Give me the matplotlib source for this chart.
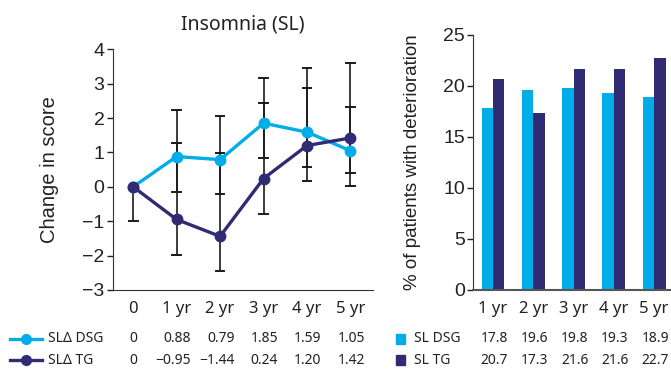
import matplotlib
matplotlib.use("Agg")
import matplotlib.pyplot as plt
import matplotlib.transforms as mtransforms
from matplotlib.lines import Line2D
from matplotlib.patches import Rectangle

plt.rcParams['font.family'] = ['Noto Sans', 'DejaVu Sans']
ARIAL = ['Liberation Sans', 'DejaVu Sans']

# ---- data ----
time_labels = ["0", "1 yr", "2 yr", "3 yr", "4 yr", "5 yr"]
dsg_change = [0, 0.88, 0.79, 1.85, 1.59, 1.05]
tg_change = [0, -0.95, -1.44, 0.24, 1.20, 1.42]
dsg_lower = [0, -0.16, -0.20, 0.84, 0.57, 0.03]
dsg_upper = [0, 2.23, 2.06, 3.16, 2.87, 2.32]
tg_lower = [-1.0, -1.99, -2.46, -0.79, 0.16, 0.40]
tg_upper = [0, 1.28, 0.99, 2.44, 3.45, 3.59]
dsg_change_txt = ["0", "0.88", "0.79", "1.85", "1.59", "1.05"]
tg_change_txt = ["0", "\u22120.95", "\u22121.44", "0.24", "1.20", "1.42"]

bar_labels = ["1 yr", "2 yr", "3 yr", "4 yr", "5 yr"]
dsg_pct = [17.8, 19.6, 19.8, 19.3, 18.9]
tg_pct = [20.7, 17.3, 21.6, 21.6, 22.7]

LIGHT = "#00ADE8"
DARK = "#302B72"
TXT = "#222222"

fig = plt.figure(figsize=(6.71, 3.75), dpi=100)

# ---- left line chart ----
ax = fig.add_axes([0.168, 0.2267, 0.388, 0.642])
x = list(range(len(time_labels)))
for i in x:
    for lo, hi in ((dsg_lower[i], dsg_upper[i]), (tg_lower[i], tg_upper[i])):
        if hi - lo > 0:
            ax.plot([i, i], [lo, hi], color="#1a1a1a", lw=1.2, zorder=1)
            for v in (lo, hi):
                if i != 0 or v != 0:
                    ax.plot([i - 0.1, i + 0.1], [v, v], color="#1a1a1a", lw=1.4, zorder=1)
ax.plot(x, dsg_change, color=LIGHT, lw=2.4, marker="o", ms=7.5, zorder=3)
ax.plot(x, tg_change, color=DARK, lw=2.4, marker="o", ms=7.5, zorder=4)
ax.set_xlim(-0.47, 5.52)
ax.set_ylim(-3, 4)
ax.set_yticks(range(-3, 5))
ax.set_yticklabels([("\u2212%d" % -v) if v < 0 else str(v) for v in range(-3, 5)], family=ARIAL)
ax.set_xticks(x)
ax.set_xticklabels(time_labels)
ax.tick_params(axis="x", length=0, pad=8, labelsize=12, colors=TXT)
ax.tick_params(axis="y", length=4, width=1, pad=2, labelsize=14, colors=TXT)
ax.spines["top"].set_visible(False)
ax.spines["right"].set_visible(False)
ax.spines["left"].set_color("#333333")
ax.spines["bottom"].set_color("#333333")
ax.set_ylabel("Change in score", fontsize=14.5, color=TXT, labelpad=17, family=ARIAL)
ax.set_title("Insomnia (SL)", fontsize=14, color=TXT, pad=14)

# table under left chart
tr = mtransforms.blended_transform_factory(ax.transData, fig.transFigure)
row_y = [0.096, 0.040]
for txts, yy in ((dsg_change_txt, row_y[0]), (tg_change_txt, row_y[1])):
    for i, t in enumerate(txts):
        if i == 0:
            ax.text(i, yy, t, transform=tr, ha="center", va="center", fontsize=10, color=TXT, clip_on=False)
        else:
            ax.text(i + 0.33, yy, t, transform=tr, ha="right", va="center", fontsize=10, color=TXT, clip_on=False)
for col, name, yy in ((LIGHT, "SL\u0394 DSG", row_y[0]), (DARK, "SL\u0394 TG", row_y[1])):
    fig.add_artist(Line2D([10 / 671, 42 / 671], [yy, yy], color=col, lw=2.4, transform=fig.transFigure))
    fig.add_artist(Line2D([26 / 671], [yy], color=col, marker="o", ms=7, transform=fig.transFigure))
    fig.text(48 / 671, yy, name, ha="left", va="center", fontsize=10, color=TXT)

# ---- right bar chart ----
bx = fig.add_axes([0.7053, 0.2267, 0.2947, 0.681])
xb = list(range(len(bar_labels)))
w = 0.285
bx.bar([i - w / 2 for i in xb], dsg_pct, width=w, color=LIGHT)
bx.bar([i + w / 2 for i in xb], tg_pct, width=w, color=DARK)
bx.set_xlim(-0.49, 4.42)
bx.set_ylim(0, 25)
bx.set_yticks([0, 5, 10, 15, 20, 25])
bx.set_yticklabels(["0", "5", "10", "15", "20", "25"], family=ARIAL)
bx.set_xticks(xb)
bx.set_xticklabels(bar_labels)
bx.tick_params(axis="x", length=0, pad=8, labelsize=12, colors=TXT)
bx.tick_params(axis="y", length=4, width=1, pad=2, labelsize=14, colors=TXT)
bx.spines["top"].set_visible(False)
bx.spines["right"].set_visible(False)
bx.spines["left"].set_color("#333333")
bx.spines["bottom"].set_color("#555555")
bx.spines["bottom"].set_linewidth(1.5)
bx.set_ylabel("% of patients with deterioration", fontsize=13.5, color=TXT, labelpad=16, family=ARIAL)

trb = mtransforms.blended_transform_factory(bx.transData, fig.transFigure)
for vals, yy in ((dsg_pct, row_y[0]), (tg_pct, row_y[1])):
    for i, v in enumerate(vals):
        bx.text(i + 0.37, yy, "%.1f" % v, transform=trb, ha="right", va="center", fontsize=10, color=TXT, clip_on=False)
for col, name, yy in ((LIGHT, "SL DSG", row_y[0]), (DARK, "SL TG", row_y[1])):
    fig.add_artist(Rectangle((396 / 671, yy - 0.013), 9 / 671, 0.026, color=col, transform=fig.transFigure))
    fig.text(414 / 671, yy, name, ha="left", va="center", fontsize=10, color=TXT)

fig.savefig("out.png", dpi=100)
